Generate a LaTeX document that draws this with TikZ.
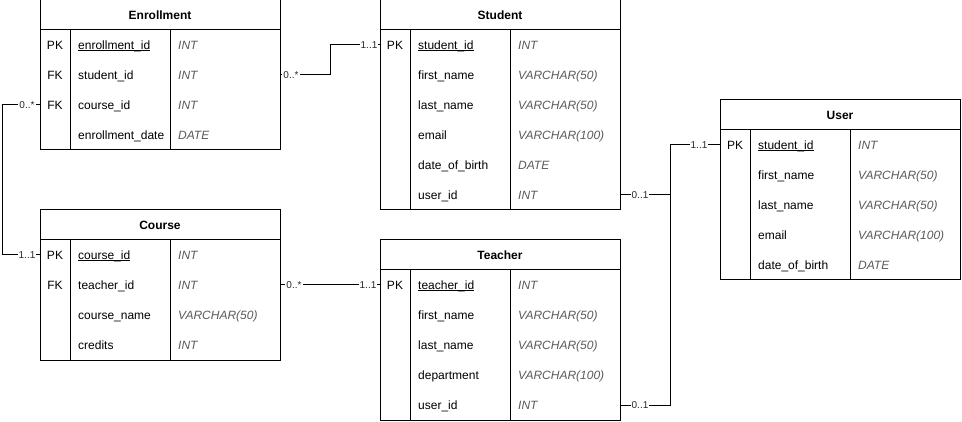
\documentclass[tikz,border=0pt]{standalone}
\usepackage{fontspec}
\setmainfont{Liberation Sans}
\definecolor{typegray}{RGB}{90,90,90}
\definecolor{lblgray}{RGB}{40,40,40}
\newcommand\pkul[1]{\setbox0\hbox{#1}\rlap{\rule[-1.6pt]{\wd0}{0.8pt}}\box0}
\tikzset{
  tline/.style={draw=black, line width=1pt},
  conn/.style={draw=black, line width=1pt},
  rowbox/.style={draw=none, minimum width=240pt, minimum height=30pt, inner sep=0pt},
  basetext/.style={inner sep=0pt, text height=8.6pt, text depth=0pt, font=\fontsize{12}{14}\selectfont},
  titlet/.style={basetext, font=\fontsize{12}{14}\selectfont\bfseries},
  keyt/.style={basetext},
  fieldt/.style={basetext, anchor=west},
  typet/.style={basetext, anchor=west, text=typegray, font=\fontsize{12}{14}\selectfont\itshape},
  lbl/.style={fill=white, inner xsep=1pt, inner ysep=1pt, text=lblgray, text height=6.5pt, text depth=0pt, font=\fontsize{10}{12}\selectfont},
}
\newcommand\ertable[5]{%
  \pgfmathsetmacro\tbbottom{#3+30+30*#5}
  \draw[tline] (#2,#3) rectangle (#2+240,\tbbottom);
  \draw[tline] (#2,#3+30) -- (#2+240,#3+30);
  \draw[tline] (#2+30,#3+30) -- (#2+30,\tbbottom);
  \draw[tline] (#2+130,#3+30) -- (#2+130,\tbbottom);
  \node[titlet] (#1) at (#2+120,#3+15) {#4};
}
\newcommand\errow[6]{%
  \node[rowbox] (#1) at (#2+120,#3) {};
  \node[keyt] (#1-k) at (#2+15,#3) {#4};
  \node[fieldt] (#1-f) at (#2+38,#3) {#5};
  \node[typet] (#1-t) at (#2+138,#3) {#6};
}
\begin{document}
\begin{tikzpicture}[x=1pt,y=-1pt]
\useasboundingbox (0,0) rectangle (962,422);
\fill[white] (0,0) rectangle (962,422);

% Enrollment
\ertable{enr}{40}{0}{Enrollment}{4}
\errow{enr-id}{40}{45}{PK}{\pkul{enrollment\_id}}{INT}
\errow{enr-student}{40}{75}{FK}{student\_id}{INT}
\errow{enr-course}{40}{105}{FK}{course\_id}{INT}
\errow{enr-date}{40}{135}{}{enrollment\_date}{DATE}

% Course
\ertable{crs}{40}{210}{Course}{4}
\errow{crs-id}{40}{255}{PK}{\pkul{course\_id}}{INT}
\errow{crs-teacher}{40}{285}{FK}{teacher\_id}{INT}
\errow{crs-name}{40}{315}{}{course\_name}{VARCHAR(50)}
\errow{crs-credits}{40}{345}{}{credits}{INT}

% Student
\ertable{stu}{380}{0}{Student}{6}
\errow{stu-id}{380}{45}{PK}{\pkul{student\_id}}{INT}
\errow{stu-first}{380}{75}{}{first\_name}{VARCHAR(50)}
\errow{stu-last}{380}{105}{}{last\_name}{VARCHAR(50)}
\errow{stu-email}{380}{135}{}{email}{VARCHAR(100)}
\errow{stu-dob}{380}{165}{}{date\_of\_birth}{DATE}
\errow{stu-user}{380}{195}{}{user\_id}{INT}

% Teacher
\ertable{tea}{380}{240}{Teacher}{5}
\errow{tea-id}{380}{285}{PK}{\pkul{teacher\_id}}{INT}
\errow{tea-first}{380}{315}{}{first\_name}{VARCHAR(50)}
\errow{tea-last}{380}{345}{}{last\_name}{VARCHAR(50)}
\errow{tea-dept}{380}{375}{}{department}{VARCHAR(100)}
\errow{tea-user}{380}{405}{}{user\_id}{INT}

% User
\ertable{usr}{720}{100}{User}{5}
\errow{usr-id}{720}{145}{PK}{\pkul{student\_id}}{INT}
\errow{usr-first}{720}{175}{}{first\_name}{VARCHAR(50)}
\errow{usr-last}{720}{205}{}{last\_name}{VARCHAR(50)}
\errow{usr-email}{720}{235}{}{email}{VARCHAR(100)}
\errow{usr-dob}{720}{265}{}{date\_of\_birth}{DATE}

% connectors
\draw[conn] (enr-student.east) -- ++(50,0) |- (stu-id.west);
\draw[conn] (enr-course.west) -- ++(-37,0) |- (crs-id.west);
\draw[conn] (crs-teacher.east) -- (tea-id.west);
\draw[conn] (stu-user.east) -- ++(50,0) |- (usr-id.west);
\draw[conn] (tea-user.east) -- ++(50,0) |- (usr-id.west);

% multiplicity labels
\node[lbl] (l1) at (291,75) {0..*};
\node[lbl] (l2) at (369,45) {1..1};
\node[lbl] (l3) at (27,105) {0..*};
\node[lbl] (l4) at (27,255) {1..1};
\node[lbl] (l5) at (294,285) {0..*};
\node[lbl] (l6) at (368,285) {1..1};
\node[lbl] (l7) at (640,195) {0..1};
\node[lbl] (l8) at (699,145) {1..1};
\node[lbl] (l9) at (640,405) {0..1};
\end{tikzpicture}
\end{document}
